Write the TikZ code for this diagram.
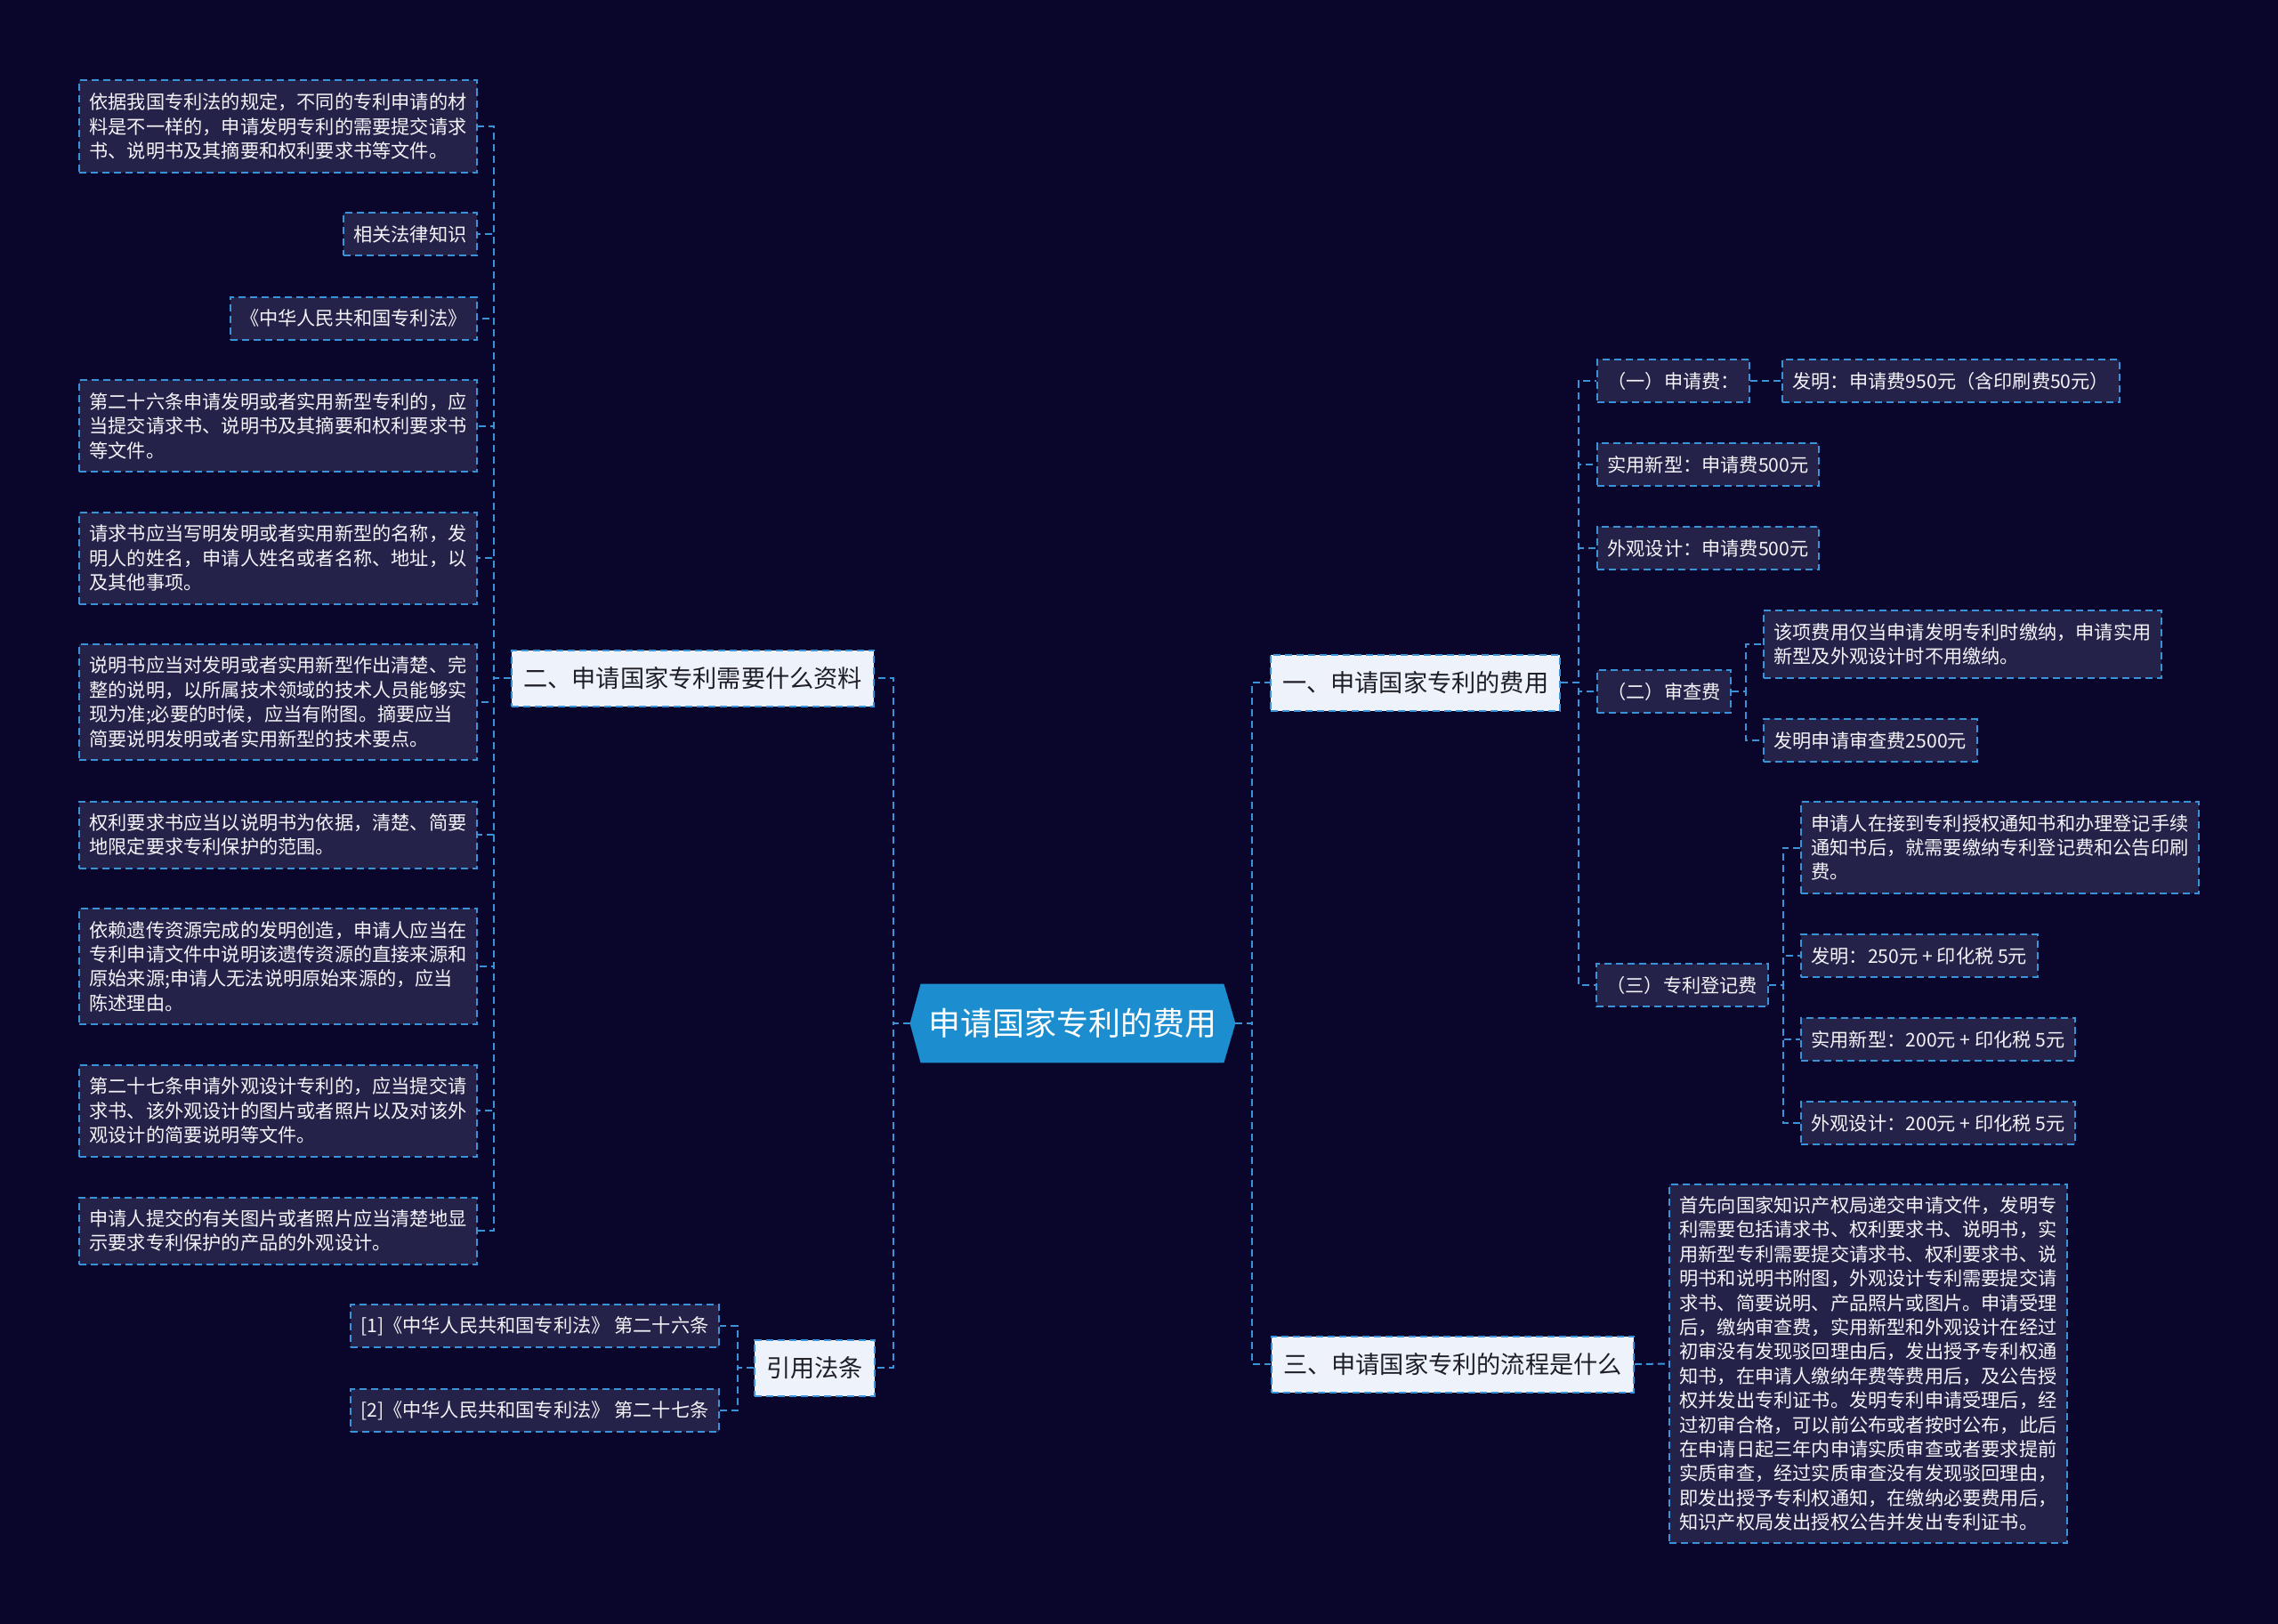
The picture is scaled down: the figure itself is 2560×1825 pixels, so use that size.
\documentclass[tikz,border=0pt]{standalone}
\usepackage{fontspec}
\setmainfont{Noto Sans CJK SC}
\usetikzlibrary{backgrounds}
\definecolor{bgc}{HTML}{0A062B}
\definecolor{leaffill}{HTML}{252249}
\definecolor{bord}{HTML}{3A92D8}
\definecolor{branchfill}{HTML}{EEF3FB}
\definecolor{rootc}{HTML}{1C8ED0}
\definecolor{leaftext}{HTML}{F4F4F8}
\definecolor{branchtext}{HTML}{1E1E24}
\newcommand\leaffont{\fontsize{10.6pt}{13.7pt}\selectfont}
\newcommand\branchfont{\fontsize{13.6pt}{16pt}\selectfont}
\newcommand\rootfont{\fontsize{18pt}{22pt}\selectfont}
\tikzset{
  dsh/.style={dash pattern=on 4pt off 2.5pt, line width=1pt},
  leaf/.style={draw=bord, dsh, fill=leaffill, text=leaftext, font=\leaffont,
    inner xsep=5.75pt, inner ysep=0pt, minimum height=24pt},
  leafw/.style={leaf, text width=212pt, align=left},
  h2/.style={minimum height=37.5pt},
  h3/.style={minimum height=51.5pt},
  h4/.style={minimum height=65pt},
  branch/.style={draw=bord, dsh, fill=branchfill, text=branchtext, font=\branchfont,
    inner xsep=6.5pt, inner ysep=0pt, minimum height=31.5pt},
  rootn/.style={inner sep=0pt, minimum width=182.5pt, minimum height=44pt,
    text=white, font=\rootfont},
  conn/.style={draw=bord, dsh}
}
\begin{document}
\begin{tikzpicture}[x=0.5pt,y=-0.5pt]
\useasboundingbox (0,0) rectangle (2560,1825);

% root
\node[rootn] (root) at (1205.5,1150) {申请国家专利的费用};

% left branch
\node[branch, anchor=east] (b2) at (983,762) {二、申请国家专利需要什么资料};
\node[branch, anchor=east] (b4) at (984,1537) {引用法条};

\node[leafw, h3, anchor=east] (L1) at (537,142) {依据我国专利法的规定，不同的专利申请的材\\料是不一样的，申请发明专利的需要提交请求\\书、说明书及其摘要和权利要求书等文件。};
\node[leaf, anchor=east] (L2) at (537,263) {相关法律知识};
\node[leaf, anchor=east] (L3) at (537,357.5) {《中华人民共和国专利法》};
\node[leafw, h3, anchor=east] (L4) at (537,478.5) {第二十六条申请发明或者实用新型专利的，应\\当提交请求书、说明书及其摘要和权利要求书\\等文件。};
\node[leafw, h3, anchor=east] (L5) at (537,627) {请求书应当写明发明或者实用新型的名称，发\\明人的姓名，申请人姓名或者名称、地址，以\\及其他事项。};
\node[leafw, h4, anchor=east] (L6) at (537,789) {说明书应当对发明或者实用新型作出清楚、完\\整的说明，以所属技术领域的技术人员能够实\\现为准;必要的时候，应当有附图。摘要应当\\简要说明发明或者实用新型的技术要点。};
\node[leafw, h2, anchor=east] (L7) at (537,938) {权利要求书应当以说明书为依据，清楚、简要\\地限定要求专利保护的范围。};
\node[leafw, h4, anchor=east] (L8) at (537,1086) {依赖遗传资源完成的发明创造，申请人应当在\\专利申请文件中说明该遗传资源的直接来源和\\原始来源;申请人无法说明原始来源的，应当\\陈述理由。};
\node[leafw, h3, anchor=east] (L9) at (537,1248) {第二十七条申请外观设计专利的，应当提交请\\求书、该外观设计的图片或者照片以及对该外\\观设计的简要说明等文件。};
\node[leafw, h2, anchor=east] (L10) at (537,1383) {申请人提交的有关图片或者照片应当清楚地显\\示要求专利保护的产品的外观设计。};

\node[leaf, anchor=east] (ref1) at (809,1490) {[1]《中华人民共和国专利法》 第二十六条};
\node[leaf, anchor=east] (ref2) at (809,1585) {[2]《中华人民共和国专利法》 第二十七条};

% right branch
\node[branch, anchor=west] (b1) at (1427,767) {一、申请国家专利的费用};
\node[branch, anchor=west] (b3) at (1428,1533) {三、申请国家专利的流程是什么};

\node[leaf, anchor=west] (r1) at (1794,428) {（一）申请费：};
\node[leaf, anchor=west] (r1a) at (2002,428) {发明：申请费950元（含印刷费50元）};
\node[leaf, anchor=west] (r2) at (1794,522) {实用新型：申请费500元};
\node[leaf, anchor=west] (r3) at (1794,616) {外观设计：申请费500元};
\node[leaf, anchor=west] (r4) at (1794,777) {（二）审查费};
\node[leafw, minimum height=38pt, anchor=west] (r4a) at (1981,724) {该项费用仅当申请发明专利时缴纳，申请实用\\新型及外观设计时不用缴纳。};
\node[leaf, anchor=west] (r4b) at (1981,832) {发明申请审查费2500元};
\node[leaf, anchor=west] (r5) at (1793,1107) {（三）专利登记费};
\node[leafw, h3, anchor=west] (r5a) at (2023,952.5) {申请人在接到专利授权通知书和办理登记手续\\通知书后，就需要缴纳专利登记费和公告印刷\\费。};
\node[leaf, anchor=west] (r5b) at (2023,1074) {发明：250元 + 印化税 5元};
\node[leaf, anchor=west] (r5c) at (2023,1168) {实用新型：200元 + 印化税 5元};
\node[leaf, anchor=west] (r5d) at (2023,1262) {外观设计：200元 + 印化税 5元};

\node[leafw, minimum height=201.5pt, anchor=west] (t3) at (1875,1532.5) {首先向国家知识产权局递交申请文件，发明专\\利需要包括请求书、权利要求书、说明书，实\\用新型专利需要提交请求书、权利要求书、说\\明书和说明书附图，外观设计专利需要提交请\\求书、简要说明、产品照片或图片。申请受理\\后，缴纳审查费，实用新型和外观设计在经过\\初审没有发现驳回理由后，发出授予专利权通\\知书，在申请人缴纳年费等费用后，及公告授\\权并发出专利证书。发明专利申请受理后，经\\过初审合格，可以前公布或者按时公布，此后\\在申请日起三年内申请实质审查或者要求提前\\实质审查，经过实质审查没有发现驳回理由，\\即发出授予专利权通知，在缴纳必要费用后，\\知识产权局发出授权公告并发出专利证书。};

% connector columns
\coordinate (xL) at (555,0);
\coordinate (xRootL) at (1004,0);
\coordinate (xRef) at (829,0);
\coordinate (xRootR) at (1407,0);
\coordinate (xOne) at (1774,0);
\coordinate (xTwo) at (1962,0);
\coordinate (xThree) at (2004,0);

\foreach \c in {L1,L2,L3,L4,L5,L6,L7,L8,L9,L10}
  \draw[conn] (b2.west) -- (b2.west -| xL) |- (\c.east);
\foreach \c in {b2,b4}
  \draw[conn] (root.west) -- (root.west -| xRootL) |- (\c.east);
\foreach \c in {ref1,ref2}
  \draw[conn] (b4.west) -- (b4.west -| xRef) |- (\c.east);
\foreach \c in {b1,b3}
  \draw[conn] (root.east) -- (root.east -| xRootR) |- (\c.west);
\foreach \c in {r1,r2,r3,r4,r5}
  \draw[conn] (b1.east) -- (b1.east -| xOne) |- (\c.west);
\draw[conn] (r1.east) -- (r1a.west);
\foreach \c in {r4a,r4b}
  \draw[conn] (r4.east) -- (r4.east -| xTwo) |- (\c.west);
\foreach \c in {r5a,r5b,r5c,r5d}
  \draw[conn] (r5.east) -- (r5.east -| xThree) |- (\c.west);
\draw[conn] (b3.east) -- (t3.west);

\begin{scope}[on background layer]
  \fill[bgc] (0,0) rectangle (2560,1825);
  \fill[rootc] (root.west) -- ([xshift=6pt]root.north west) -- ([xshift=-6.5pt]root.north east)
    -- (root.east) -- ([xshift=-6.5pt]root.south east) -- ([xshift=6pt]root.south west) -- cycle;
\end{scope}
\end{tikzpicture}
\end{document}
